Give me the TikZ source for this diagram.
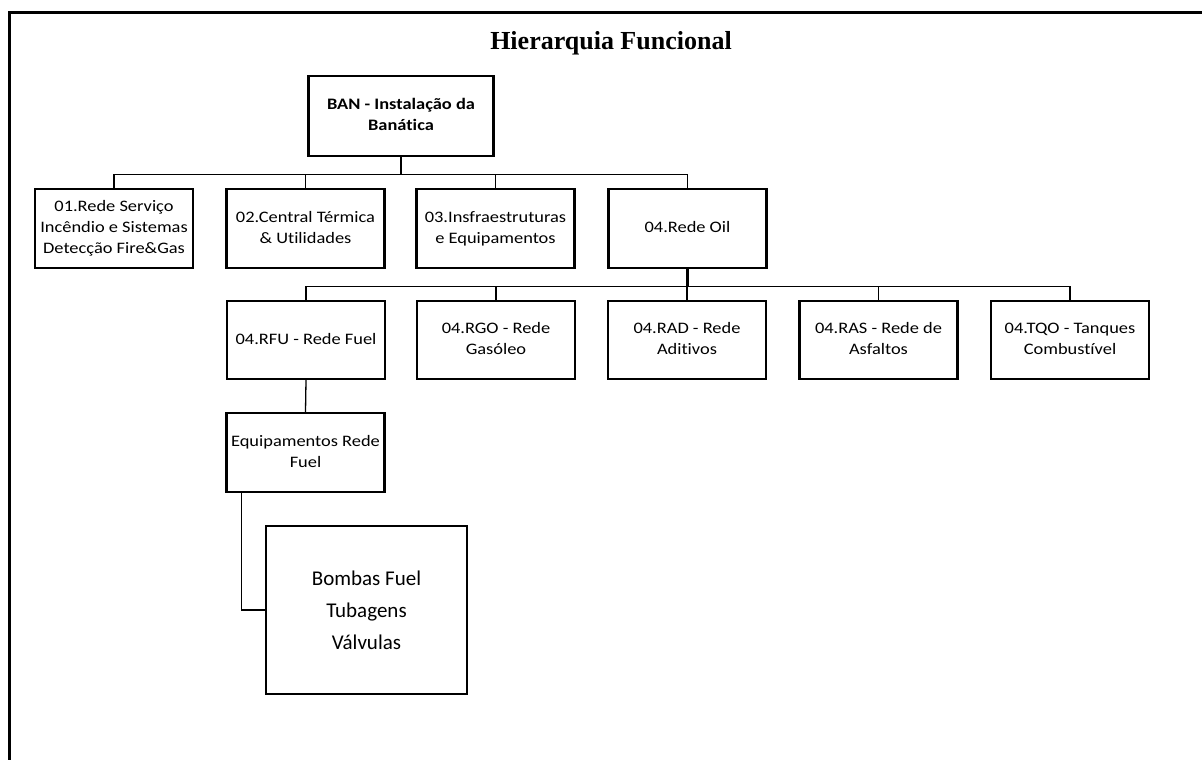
\documentclass[tikz,border=0pt]{standalone}
\usepackage{fontspec}
\usepackage{graphicx}
\setmainfont{Carlito}[Ligatures=NoCommon]
\newfontfamily\titlefont{Liberation Serif}
% box labels are set a little wide, as in a word-processor chart
\newcommand{\boxtext}[1]{\scalebox{1.15}[1]{\begin{tabular}{@{}c@{}}#1\end{tabular}}}

\tikzset{
  unitbox/.style={draw, rectangle, line width=2.4pt, inner sep=0pt,
    minimum width=158pt, minimum height=79pt, align=center,
    font=\fontsize{16}{21}\selectfont},
  link/.style={line width=1.3pt},
  trunk/.style={line width=2.4pt},
}

\begin{document}
\begin{tikzpicture}[x=1pt,y=-1pt]
  \useasboundingbox (0,0) rectangle (1202,760);

  % outer frame (open at right and bottom)
  \draw[line width=3pt] (9.5,760) -- (9.5,13) -- (1202,13);

  % title
  \node[anchor=base, inner sep=0pt] (title) at (611,49)
    {\titlefont\bfseries\fontsize{26}{30}\selectfont Hierarquia Funcional};

  % root
  \node[unitbox, minimum width=185pt, minimum height=80pt,
        font=\fontsize{16}{21}\selectfont\bfseries] (ban) at (401,116)
    {\boxtext{BAN - Instalação da\\Banática}};

  % first level
  \node[unitbox] (c1) at (114,228.5)
    {\boxtext{01.Rede Serviço\\Incêndio e Sistemas\\Detecção Fire\&Gas}};
  \node[unitbox] (c2) at (305.5,228.5)
    {\boxtext{02.Central Térmica\\\& Utilidades}};
  \node[unitbox] (c3) at (495.5,228.5)
    {\boxtext{03.Insfraestruturas\\e Equipamentos}};
  \node[unitbox] (c4) at (687.5,228.5)
    {\boxtext{04.Rede Oil}};

  % second level (oil network)
  \node[unitbox, minimum height=78pt] (rfu) at (306,340)
    {\boxtext{04.RFU - Rede Fuel}};
  \node[unitbox, minimum height=78pt] (rgo) at (496,340)
    {\boxtext{04.RGO - Rede\\Gasóleo}};
  \node[unitbox, minimum height=78pt] (rad) at (687,340)
    {\boxtext{04.RAD - Rede\\Aditivos}};
  \node[unitbox, minimum height=78pt] (ras) at (878.5,340)
    {\boxtext{04.RAS - Rede de\\Asfaltos}};
  \node[unitbox, minimum height=78pt] (tqo) at (1070,340)
    {\boxtext{04.TQO - Tanques\\Combustível}};

  % equipment
  \node[unitbox] (eq) at (305.5,452.5)
    {\boxtext{Equipamentos Rede\\Fuel}};
  \node[unitbox, minimum width=201pt, minimum height=168pt,
        font=\fontsize{21}{32}\selectfont] (bomb) at (366.5,610)
    {Bombas Fuel\\Tubagens\\Válvulas};

  % connectors, root to first level
  \draw[trunk] (ban.south) -- ++(0,17) coordinate (bus1);
  \foreach \n in {c1,c2,c3,c4}
    \draw[link] (bus1) -| (\n.north);

  % connectors, oil network to second level
  \draw[trunk] (c4.south) -- ++(0,17) coordinate (bus2);
  \foreach \n in {rfu,rgo,rad,ras,tqo}
    \draw[link] (bus2) -| (\n.north);

  % fuel network to its equipment
  \draw[link] (rfu.south) -- (eq.north);
  \draw[link] ([xshift=16pt]eq.south west) |- (bomb.west);
\end{tikzpicture}
\end{document}
